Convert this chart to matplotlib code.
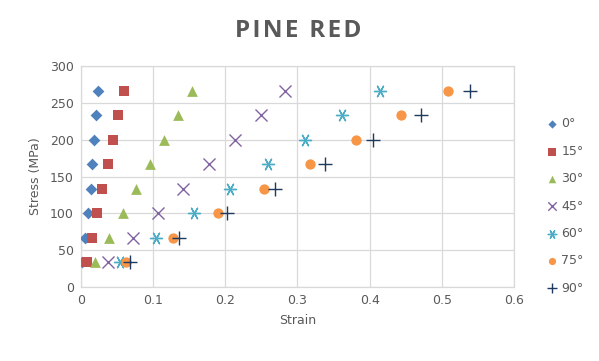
import matplotlib
matplotlib.use("Agg")
import matplotlib.pyplot as plt

# stress levels (MPa) shared by all series
STRESS = [33.3, 66.7, 100, 133.3, 166.7, 200, 233.3, 266.7]

LABELS = ["0°", "15°", "30°", "45°", "60°", "75°", "90°"]

strain_0 = [0.002, 0.0055, 0.0093, 0.0134, 0.0156, 0.018, 0.0211, 0.0239]
strain_15 = [0.0078, 0.0147, 0.0216, 0.0285, 0.0368, 0.0437, 0.0511, 0.0594]
strain_30 = [0.0198, 0.039, 0.0585, 0.0764, 0.0953, 0.115, 0.134, 0.154]
strain_45 = [0.0368, 0.0723, 0.107, 0.142, 0.177, 0.213, 0.249, 0.283]
strain_60 = [0.0539, 0.104, 0.156, 0.207, 0.259, 0.311, 0.362, 0.415]
strain_75 = [0.063, 0.127, 0.190, 0.254, 0.317, 0.381, 0.444, 0.508]
strain_90 = [0.0677, 0.136, 0.202, 0.269, 0.338, 0.405, 0.471, 0.539]

STRAINS = [strain_0, strain_15, strain_30, strain_45, strain_60, strain_75, strain_90]

COLORS = ["#4F81BD", "#C0504D", "#9BBB59", "#8064A2", "#4BACC6", "#F79646", "#1F3A60"]
MARKERS = ["D", "s", "^", "x", (6, 2, 90), "o", "+"]
SIZES = [36, 55, 60, 75, 75, 55, 90]

TXT = "#595959"
GRID = "#D9D9D9"

fig = plt.figure(figsize=(5.99, 3.61), dpi=100)
ax = fig.add_axes([0.1352, 0.205, 0.7229, 0.612])

for strain, lab, c, m, s in zip(STRAINS, LABELS, COLORS, MARKERS, SIZES):
    if m in ("x", "+") or isinstance(m, tuple):
        ax.scatter(strain, STRESS, marker=m, s=s, color=c, linewidths=1.0,
                   label=lab, zorder=3)
    else:
        ax.scatter(strain, STRESS, marker=m, s=s, color=c, linewidths=0,
                   label=lab, zorder=3)

ax.set_xlim(0, 0.6)
ax.set_ylim(0, 300)
ax.set_xticks([0, 0.1, 0.2, 0.3, 0.4, 0.5, 0.6])
ax.set_xticklabels(["0", "0.1", "0.2", "0.3", "0.4", "0.5", "0.6"])
ax.set_yticks(range(0, 301, 50))
ax.grid(True, color=GRID, linewidth=0.9)
ax.set_axisbelow(True)
for sp in ax.spines.values():
    sp.set_color(GRID)
    sp.set_linewidth(0.9)
ax.tick_params(length=0, colors=TXT, labelsize=9, pad=5)

ax.set_xlabel("Strain", color=TXT, fontsize=9, labelpad=5)
ax.set_ylabel("Stress (MPa)", color=TXT, fontsize=9, labelpad=6)

title = "\u200a".join("PINE RED")
fig.text(0.498, 0.915, title, ha="center", va="center", color=TXT,
         fontsize=17.5, fontweight="bold", family=["Open Sans", "DejaVu Sans"])

leg = ax.legend(loc="upper left", bbox_to_anchor=(1.06, 0.79), frameon=False,
                fontsize=9, labelspacing=1.15, handletextpad=0.1,
                handlelength=1.2, borderaxespad=0, markerscale=0.7)
for t in leg.get_texts():
    t.set_color(TXT)

fig.savefig("out.png", dpi=100)
